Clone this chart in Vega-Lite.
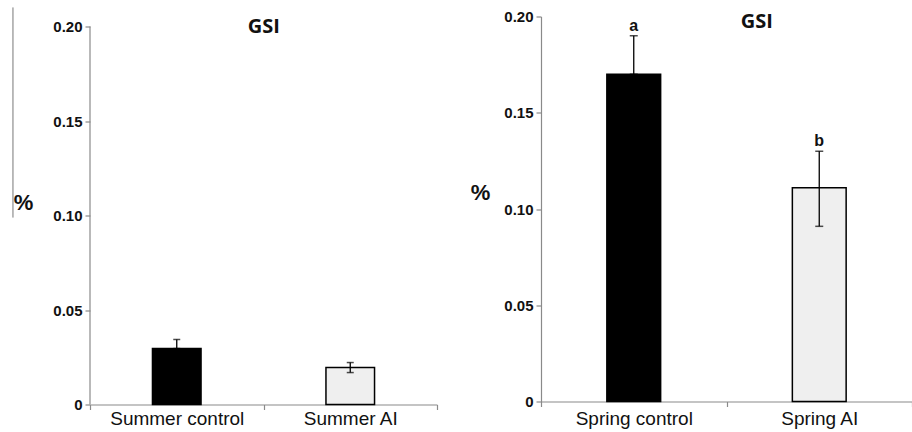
{
  "$schema": "https://vega.github.io/schema/vega-lite/v6.json",
  "padding": {"left": 12, "top": 6.5, "right": 0, "bottom": 0},
  "background": "white",
  "spacing": 32,
  "config": {
    "view": {"stroke": null},
    "axis": {
      "labelFont": "Liberation Sans",
      "labelFontWeight": "bold",
      "labelFontSize": 15,
      "labelColor": "#111",
      "domainColor": "#8a8a8a",
      "tickColor": "#8a8a8a",
      "domainWidth": 1.2,
      "tickWidth": 1.2,
      "grid": false
    }
  },
  "datasets": {
    "summer": [
      {"group": "Summer control", "value": 0.0296, "lo": 0.0296, "hi": 0.0344, "kind": "control"},
      {"group": "Summer AI", "value": 0.0196, "lo": 0.0169, "hi": 0.0222, "kind": "AI"}
    ],
    "spring": [
      {"group": "Spring control", "value": 0.17, "lo": 0.17, "hi": 0.19, "kind": "control", "sig": "a"},
      {"group": "Spring AI", "value": 0.111, "lo": 0.091, "hi": 0.130, "kind": "AI", "sig": "b"}
    ]
  },
  "hconcat": [
    {
      "width": 347,
      "height": 388,
      "resolve": {"scale": {"x": "independent"}, "axis": {"x": "independent"}},
      "layer": [
        {
          "data": {"name": "summer"},
          "layer": [
            {
              "mark": {"type": "bar", "width": {"band": 0.28}, "stroke": "#000", "strokeWidth": 1.5},
              "encoding": {
                "x": {"field": "group", "type": "nominal", "sort": null, "scale": {"paddingInner": 0, "paddingOuter": 0},
                  "axis": {"title": null, "orient": "bottom", "labelAngle": 0, "labelFont": "Liberation Sans", "labelFontWeight": "normal", "labelFontSize": 19, "labelColor": "#111", "tickBand": "extent", "tickSize": 5, "labelPadding": 0}},
                "y": {"field": "value", "type": "quantitative", "scale": {"domain": [0, 0.2053], "nice": false, "zero": true},
                  "axis": {"values": [0, 0.05, 0.1, 0.15, 0.2], "domain": false, "labelExpr": "datum.value == 0 ? '0' : format(datum.value, '.2f')", "tickSize": 5, "labelPadding": 3,
                    "title": "%", "titleAngle": 0, "titleFont": "Liberation Sans", "titleFontSize": 22, "titleFontWeight": "bold", "titleColor": "#111", "titleX": -67, "titleY": 186, "titleAlign": "center", "titleBaseline": "middle"}},
                "fill": {"field": "kind", "type": "nominal", "scale": {"domain": ["control", "AI"], "range": ["#000000", "#efefef"]}, "legend": null}
              }
            },
            {
              "mark": {"type": "rule", "color": "#000", "strokeWidth": 1.3},
              "encoding": {
                "x": {"field": "group", "type": "nominal", "sort": null},
                "y": {"field": "lo", "type": "quantitative"},
                "y2": {"field": "hi"}
              }
            },
            {
              "mark": {"type": "tick", "color": "#000", "thickness": 1.5, "size": 7},
              "encoding": {
                "x": {"field": "group", "type": "nominal", "sort": null},
                "y": {"field": "hi", "type": "quantitative"}
              }
            },
            {
              "mark": {"type": "tick", "color": "#000", "thickness": 1.5, "size": 7},
              "encoding": {
                "x": {"field": "group", "type": "nominal", "sort": null},
                "y": {"field": "lo", "type": "quantitative"}
              }
            }
          ]
        },
        {
          "data": {"values": [{"title": "GSI"}]},
          "layer": [
            {
              "mark": {"type": "rule", "color": "#8a8a8a", "strokeWidth": 1.2},
              "encoding": {
                "x": {"datum": 0, "type": "quantitative", "scale": {"domain": [0, 1]}, "axis": null},
                "y": {"datum": 0, "type": "quantitative"},
                "y2": {"datum": 0.2}
              }
            },
            {
              "mark": {"type": "rule", "color": "#777", "strokeWidth": 1},
              "encoding": {
                "x": {"datum": -0.222, "type": "quantitative"},
                "y": {"datum": 0.2101, "type": "quantitative"},
                "y2": {"datum": 0.0989}
              }
            },
            {
              "mark": {"type": "text", "font": "Open Sans", "fontSize": 20, "fontWeight": "bold", "color": "#111", "baseline": "middle", "align": "center"},
              "encoding": {
                "x": {"datum": 0.501, "type": "quantitative"},
                "y": {"datum": 0.2, "type": "quantitative"},
                "text": {"field": "title"}
              }
            }
          ]
        }
      ]
    },
    {
      "width": 371,
      "height": 385,
      "resolve": {"scale": {"x": "independent"}, "axis": {"x": "independent"}},
      "layer": [
        {
          "data": {"name": "spring"},
          "layer": [
            {
              "mark": {"type": "bar", "width": {"band": 0.29}, "stroke": "#000", "strokeWidth": 1.5},
              "encoding": {
                "x": {"field": "group", "type": "nominal", "sort": null, "scale": {"paddingInner": 0, "paddingOuter": 0},
                  "axis": {"title": null, "orient": "bottom", "labelAngle": 0, "labelFont": "Liberation Sans", "labelFontWeight": "normal", "labelFontSize": 19, "labelColor": "#111", "tickBand": "extent", "tickSize": 5, "labelPadding": 3}},
                "y": {"field": "value", "type": "quantitative", "scale": {"domain": [0, 0.2], "nice": false},
                  "axis": {"values": [0, 0.05, 0.1, 0.15, 0.2], "labelExpr": "datum.value == 0 ? '0' : format(datum.value, '.2f')", "tickSize": 5, "labelPadding": 3,
                    "title": "%", "titleAngle": 0, "titleFont": "Liberation Sans", "titleFontSize": 22, "titleFontWeight": "bold", "titleColor": "#111", "titleX": -61, "titleY": 176, "titleAlign": "center", "titleBaseline": "middle"}},
                "fill": {"field": "kind", "type": "nominal", "scale": {"domain": ["control", "AI"], "range": ["#000000", "#efefef"]}, "legend": null}
              }
            },
            {
              "mark": {"type": "rule", "color": "#000", "strokeWidth": 1.3},
              "encoding": {
                "x": {"field": "group", "type": "nominal", "sort": null},
                "y": {"field": "lo", "type": "quantitative"},
                "y2": {"field": "hi"}
              }
            },
            {
              "mark": {"type": "tick", "color": "#000", "thickness": 1.5, "size": 8},
              "encoding": {
                "x": {"field": "group", "type": "nominal", "sort": null},
                "y": {"field": "hi", "type": "quantitative"}
              }
            },
            {
              "mark": {"type": "tick", "color": "#000", "thickness": 1.5, "size": 8},
              "encoding": {
                "x": {"field": "group", "type": "nominal", "sort": null},
                "y": {"field": "lo", "type": "quantitative"}
              }
            },
            {
              "mark": {"type": "text", "font": "Liberation Sans", "fontWeight": "bold", "fontSize": 16, "color": "#111", "baseline": "alphabetic", "dy": -5},
              "encoding": {
                "x": {"field": "group", "type": "nominal", "sort": null},
                "y": {"field": "hi", "type": "quantitative"},
                "text": {"field": "sig"}
              }
            }
          ]
        },
        {
          "data": {"values": [{"title": "GSI"}]},
          "mark": {"type": "text", "font": "Open Sans", "fontSize": 20, "fontWeight": "bold", "color": "#111", "baseline": "middle", "align": "center"},
          "encoding": {
            "x": {"datum": 0.582, "type": "quantitative", "scale": {"domain": [0, 1]}, "axis": null},
            "y": {"datum": 0.1969, "type": "quantitative"},
            "text": {"field": "title"}
          }
        }
      ]
    }
  ]
}
